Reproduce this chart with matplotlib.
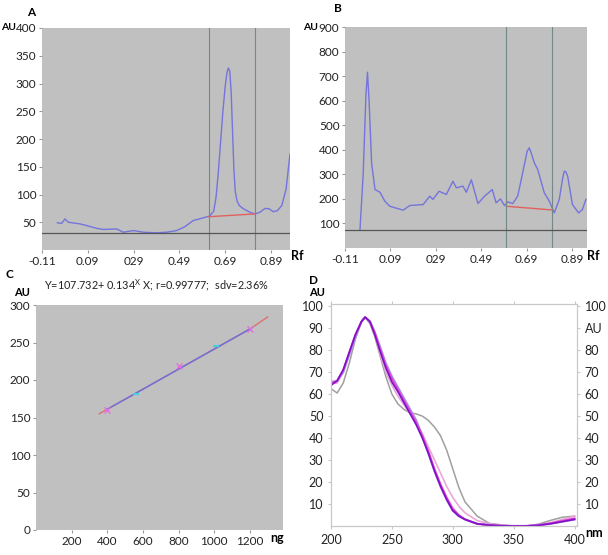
import numpy as np
import matplotlib.pyplot as plt

plt.rcParams['font.family'] = ['Lato', 'DejaVu Sans']
plt.rcParams['font.size'] = 9

# ---- panel A : densitogram of the standard
rf_a = [-0.043, -0.024, -0.01, 0.005, 0.056, 0.085, 0.129, 0.158, 0.216, 0.245, 0.289, 0.333,
        0.39, 0.434, 0.478, 0.514, 0.55, 0.594, 0.621, 0.64, 0.65, 0.66, 0.67, 0.68, 0.69,
        0.698, 0.704, 0.71, 0.716, 0.722, 0.728, 0.734, 0.742, 0.752, 0.77, 0.798, 0.82,
        0.842, 0.864, 0.883, 0.9, 0.918, 0.937, 0.956, 0.973]
au_a = [49, 48, 56, 50, 47, 44, 39, 37, 38, 32, 35, 32, 31, 32, 35, 42, 53, 58, 61, 70, 95,
        140, 195, 250, 295, 320, 328, 322, 285, 215, 145, 105, 88, 80, 74, 68, 65, 68, 75, 74,
        69, 71, 80, 110, 173]
base_a = ([0.619, 0.82], [60, 65])
marks_a = [0.619, 0.82]
zero_a = 30

# ---- panel B : densitogram of the sample
rf_b = [-0.044, -0.03, -0.018, -0.011, -0.004, 0.007, 0.022, 0.044, 0.065, 0.087, 0.146,
        0.175, 0.234, 0.263, 0.277, 0.304, 0.336, 0.365, 0.38, 0.409, 0.424, 0.446, 0.475,
        0.504, 0.538, 0.555, 0.574, 0.592, 0.606, 0.628, 0.65, 0.675, 0.692, 0.701, 0.712,
        0.723, 0.738, 0.767, 0.789, 0.811, 0.833, 0.848, 0.855, 0.862, 0.87, 0.891, 0.918,
        0.935, 0.95]
au_b = [76, 300, 620, 716, 600, 347, 238, 227, 191, 170, 154, 173, 177, 211, 198, 231, 218,
        272, 245, 252, 227, 278, 181, 211, 238, 184, 200, 173, 188, 181, 211, 320, 395, 408,
        380, 347, 320, 225, 191, 143, 198, 285, 313, 310, 292, 177, 143, 157, 198]
base_b = ([0.60, 0.80], [170, 155])
marks_b = [0.60, 0.80]
zero_b = 72

rf_ticks = [-0.11, 0.09, 0.29, 0.49, 0.69, 0.89]
rf_labels = ['-0.11', '0.09', '029', '0.49', '0.69', '0.89']

# ---- panel C : calibration
ng_pts = [400, 800, 1200]
au_pts = [160, 219, 268]
ng_cyan = [560, 1010]
au_cyan = [182, 246]
fit_ng = [355, 400, 1200, 1300]
fit_au = [155, 161, 268, 284]

# ---- panel D : UV spectra
nm = [200, 205, 210, 215, 220, 225, 228, 232, 236, 240, 245, 250, 255, 260, 265, 270, 275,
      280, 285, 290, 295, 300, 305, 310, 320, 330, 340, 350, 360, 370, 380, 390, 400]
spec_purple = [64, 66, 71, 79, 87, 93, 95, 93, 87, 80, 72, 65.5, 61, 56, 51, 46, 40, 33, 25,
               18, 12, 7, 4.5, 3, 1, 0.4, 0.1, 0, 0, 0.3, 1, 2, 3]
spec_magenta = [65, 66, 71, 79, 87, 93, 95, 93, 88, 81, 73, 67, 62, 57, 52, 47, 41, 34, 26,
                19, 13, 8, 5, 3, 1, 0.4, 0.1, 0, 0, 0.4, 1.2, 2.4, 3.5]
spec_lav = [65.5, 66, 70, 78, 86, 93, 95, 93, 88, 82, 74, 68, 63, 58, 53, 48, 41, 33, 25, 18,
            12, 7, 4.5, 3, 1, 0.4, 0.1, 0, 0, 0.3, 1, 2, 3]
spec_pink = [65, 65, 70, 78, 86, 93, 95, 93, 87, 79, 70, 64, 59, 55, 51, 47, 42, 36, 30, 24,
             18, 13, 9, 6, 2.5, 1, 0.3, 0, 0, 0.5, 1.5, 3, 4.5]
spec_gray = [62.5, 60.5, 65, 74, 85, 93, 95, 92, 86, 78, 68, 60, 55.5, 53, 51.5, 51, 50, 48,
             45, 41, 34.5, 26, 17.5, 11, 4.5, 1.2, 0.5, 0, 0, 0.8, 2.5, 4, 4.5]

W, H = 608, 555
fig = plt.figure(figsize=(W / 100, H / 100), dpi=100)


def box(l, t, r, b):
    return [l / W, 1 - b / H, (r - l) / W, (b - t) / H]


bg = '#c0c0c0'
curve = '#7474dc'
vline = '#738888'


def tlc(ax):
    for s in ax.spines.values():
        s.set_visible(False)
    ax.set_facecolor(bg)
    ax.tick_params(length=2, color='#999999', pad=2, labelsize=8.5, labelcolor='#222222')


# A
axA = fig.add_axes(box(42, 28, 290, 250))
tlc(axA)
axA.plot(rf_a, au_a, color=curve, lw=1)
axA.plot(*base_a, color='#e06060', lw=1)
for m in marks_a:
    axA.axvline(m, color=vline, lw=0.8)
axA.axhline(zero_a, color='#555555', lw=0.9)
axA.set_xlim(-0.11, 0.973)
axA.set_ylim(0, 400)
axA.set_yticks([50, 100, 150, 200, 250, 300, 350, 400])
axA.set_xticks(rf_ticks, rf_labels)
fig.text(31 / W, 1 - 12 / H, 'A', weight='bold', fontsize=8.5, ha='center', va='center')
fig.text(1 / W, 1 - 28 / H, 'AU', weight='bold', fontsize=7.5, ha='left', va='center')
fig.text(291 / W, 1 - 256 / H, 'Rf', weight='bold', fontsize=9, ha='left', va='center')

# B
axB = fig.add_axes(box(345, 27, 587, 248))
tlc(axB)
axB.plot(rf_b, au_b, color=curve, lw=1)
axB.plot(*base_b, color='#e06060', lw=1)
for m in marks_b:
    axB.axvline(m, color=vline, lw=0.8)
axB.axhline(zero_b, color='#555555', lw=0.9)
axB.set_xlim(-0.11, 0.955)
axB.set_ylim(0, 900)
axB.set_yticks([100, 200, 300, 400, 500, 600, 700, 800, 900])
axB.set_xticks(rf_ticks, rf_labels)
fig.text(338 / W, 1 - 9 / H, 'B', weight='bold', fontsize=8.5, ha='center', va='center')
fig.text(303 / W, 1 - 28 / H, 'AU', weight='bold', fontsize=7.5, ha='left', va='center')
fig.text(587 / W, 1 - 256 / H, 'Rf', weight='bold', fontsize=9, ha='left', va='center')

# C
axC = fig.add_axes(box(36, 305, 283, 530))
tlc(axC)
axC.plot(fit_ng, fit_au, color='#e07070', lw=1)
axC.plot(fit_ng[1:3], fit_au[1:3], color='#7070d8', lw=1.1)
axC.plot(ng_pts, au_pts, 'x', color='#e070e0', ms=4, mew=1)
axC.plot(ng_cyan, au_cyan, '_', color='#40d0e0', ms=5, mew=1.5)
axC.set_xlim(0, 1386)
axC.set_ylim(0, 300)
axC.set_xticks([200, 400, 600, 800, 1000, 1200])
axC.set_yticks([0, 50, 100, 150, 200, 250, 300])
fig.text(9 / W, 1 - 275 / H, 'C', weight='bold', fontsize=8.5, ha='center', va='center')
fig.text(14 / W, 1 - 293 / H, 'AU', weight='bold', fontsize=8, ha='left', va='center')
fig.text(277 / W, 1 - 538 / H, 'ng', weight='bold', fontsize=9, ha='center', va='center')
fig.text(156 / W, 1 - 285 / H, 'Y=107.732+ 0.134$^{\\mathregular{X}}$ X; r=0.99777;  sdv=2.36%',
         fontsize=7.8, ha='center', va='center', color='#222222')

# D
axD = fig.add_axes(box(331, 304, 577, 526))
axD.set_facecolor('white')
for s in axD.spines.values():
    s.set_color('#c8c8c8')
axD.plot(nm, spec_gray, color='#a0a0a0', lw=1.1)
axD.plot(nm, spec_pink, color='#e8a8d8', lw=1.2)
axD.plot(nm, spec_lav, color='#a890e8', lw=1.6)
axD.plot(nm, spec_magenta, color='#e040d0', lw=1.3)
axD.plot(nm, spec_purple, color='#8010c8', lw=1.2)
axD.set_xlim(200, 402)
axD.set_ylim(0, 101)
axD.set_xticks([200, 250, 300, 350, 400])
axD.set_yticks([10, 20, 30, 40, 50, 60, 70, 80, 90, 100])
axD.tick_params(length=2, color='#c8c8c8', labelsize=9, labelcolor='#222222', top=True)
axR = axD.twinx()
axR.set_ylim(0, 101)
axR.set_yticks([10, 20, 30, 40, 50, 60, 70, 80, 90, 100],
               ['10', '20', '30', '40', '50', '60', '70', '80', 'AU', '100'])
axR.tick_params(length=2, color='#c8c8c8', labelsize=9, labelcolor='#222222')
for s in axR.spines.values():
    s.set_color('#c8c8c8')
fig.text(313 / W, 1 - 280 / H, 'D', weight='bold', fontsize=8.5, ha='center', va='center')
fig.text(309 / W, 1 - 292 / H, 'AU', weight='bold', fontsize=8, ha='left', va='center')
fig.text(594 / W, 1 - 533 / H, 'nm', weight='bold', fontsize=9, ha='center', va='center')

fig.savefig('out.png', dpi=100)
